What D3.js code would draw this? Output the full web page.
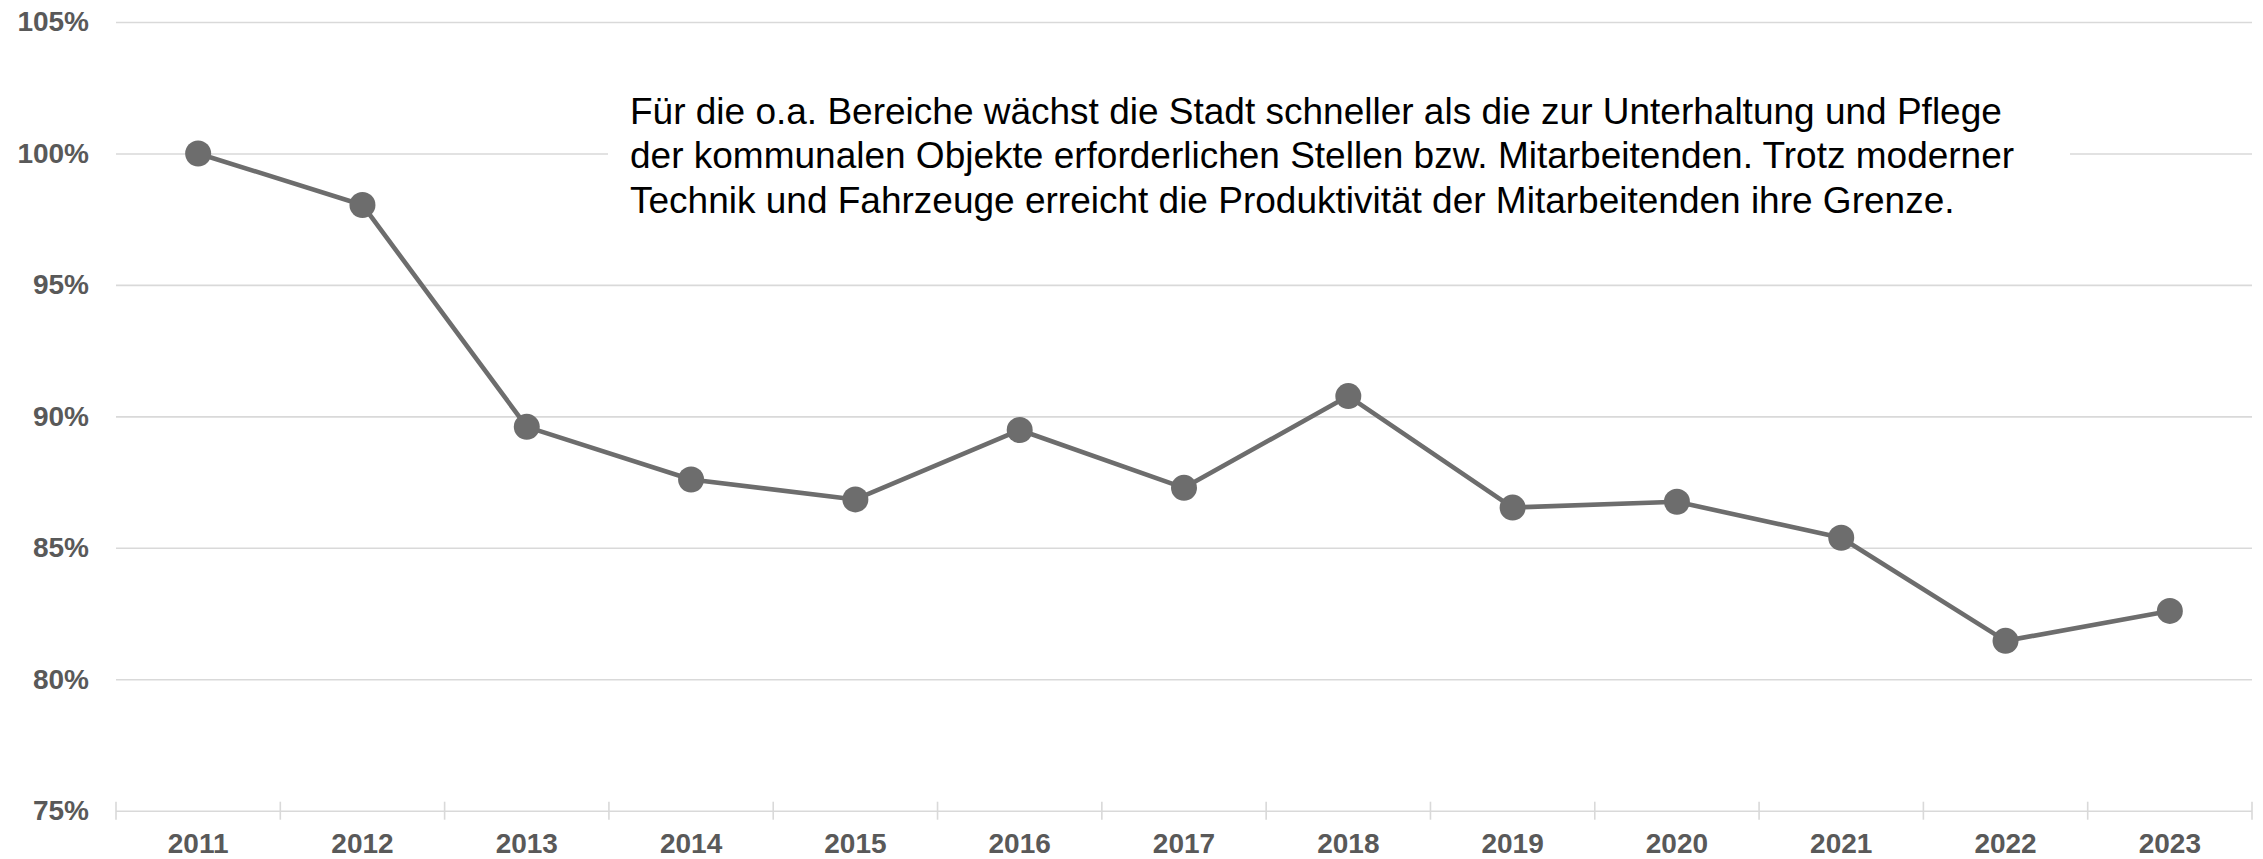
<!DOCTYPE html>
<meta charset="utf-8">
<script src="https://d3js.org/d3.v7.min.js"></script>
<style>
  body { margin: 0; background: #fff; }
  svg { font-family: "Liberation Sans", Arial, sans-serif; }
</style>
<div id="my_dataviz"></div>
<script>

// data
var years = ["2011","2012","2013","2014","2015","2016","2017","2018","2019","2020","2021","2022","2023"]
var values = [100.0, 98.04, 89.6, 87.6, 86.84, 89.48, 87.28, 90.77, 86.53, 86.75, 85.38, 81.46, 82.6]
var yTicks = [75, 80, 85, 90, 95, 100, 105]
var note = [
  "Für die o.a. Bereiche wächst die Stadt schneller als die zur Unterhaltung und Pflege",
  "der kommunalen Objekte erforderlichen Stellen bzw. Mitarbeitenden. Trotz moderner",
  "Technik und Fahrzeuge erreicht die Produktivität der Mitarbeitenden ihre Grenze."
]

var width = 2263,
    height = 859,
    plotLeft = 116,
    plotRight = 2252,
    plotTop = 22,
    plotBottom = 810.7

var lineColor = "#6d6d6d",
    gridColor = "#d9d9d9",
    labelColor = "#595959"

var svg = d3.select("#my_dataviz")
  .append("svg")
    .attr("width", width)
    .attr("height", height)

var x = d3.scaleBand()
  .domain(years)
  .range([plotLeft, plotRight])

var y = d3.scaleLinear()
  .domain([75, 105])
  .range([plotBottom, plotTop])

// y axis with gridlines
var yAxis = svg.append("g")
  .attr("transform", "translate(" + plotLeft + ",0)")
  .call(d3.axisLeft(y)
    .tickValues(yTicks)
    .tickSize(-(plotRight - plotLeft))
    .tickPadding(27)
    .tickFormat(function(d){ return d + "%" }))
yAxis.select(".domain").remove()
yAxis.selectAll("line")
  .attr("stroke", gridColor)
  .attr("stroke-width", 1.6)
yAxis.selectAll("text")
  .attr("fill", labelColor)
  .style("font-size", "28px")
  .style("font-weight", "bold")

// category separators on the base line
var bounds = years.map(function(d){ return x(d) }).concat([plotRight])
svg.selectAll("sepTicks")
  .data(bounds)
  .enter()
  .append("line")
    .attr("x1", function(d){ return d })
    .attr("x2", function(d){ return d })
    .attr("y1", plotBottom - 9)
    .attr("y2", plotBottom + 9)
    .attr("stroke", gridColor)
    .attr("stroke-width", 1.6)

// x axis labels
var xAxis = svg.append("g")
  .attr("transform", "translate(0," + plotBottom + ")")
  .call(d3.axisBottom(x).tickSize(0).tickPadding(22.4))
xAxis.select(".domain").remove()
xAxis.selectAll("text")
  .attr("fill", labelColor)
  .style("font-size", "28px")
  .style("font-weight", "bold")

// white box behind the note
svg.append("rect")
  .attr("x", 608)
  .attr("y", 80)
  .attr("width", 2070 - 608)
  .attr("height", 155)
  .attr("fill", "#fff")

svg.selectAll("noteLines")
  .data(note)
  .enter()
  .append("text")
    .attr("x", 630)
    .attr("y", function(d, i){ return 123.5 + i * 44.5 })
    .attr("fill", "#000")
    .style("font-size", "37px")
    .text(function(d){ return d })

// line and markers
var cx = function(d, i){ return x(years[i]) + x.bandwidth() / 2 }

svg.append("path")
  .datum(values)
  .attr("fill", "none")
  .attr("stroke", lineColor)
  .attr("stroke-width", 4.6)
  .attr("stroke-linejoin", "round")
  .attr("d", d3.line()
    .x(cx)
    .y(function(d){ return y(d) }))

svg.selectAll("dots")
  .data(values)
  .enter()
  .append("circle")
    .attr("cx", cx)
    .attr("cy", function(d){ return y(d) })
    .attr("r", 13)
    .attr("fill", lineColor)

</script>
